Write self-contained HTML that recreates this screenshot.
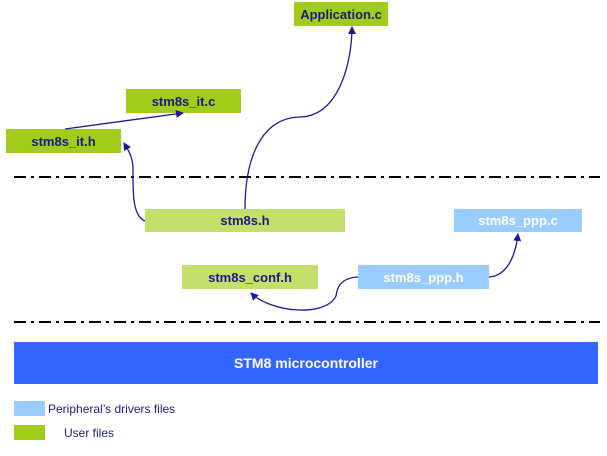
<!DOCTYPE html>
<html><head><style>
body{margin:0;width:607px;height:456px;background:#fff;position:relative;overflow:hidden;font-family:"Liberation Sans",Arial,sans-serif}
.b{position:absolute;display:flex;align-items:center;justify-content:center;font-weight:bold;font-size:13px;color:#1a1a80}
.g{background:#a0cc1a}.lg{background:#c4e06a}.bl{background:#99ccff;color:#fff}
.t{position:absolute;font-size:12px;color:#1a1a80}
</style></head><body>
<div class="b g" style="left:294px;top:2px;width:94px;height:24px;">Application.c</div>
<div class="b g" style="left:126px;top:89px;width:115px;height:24px;">stm8s_it.c</div>
<div class="b g" style="left:6px;top:129px;width:115px;height:24px;">stm8s_it.h</div>
<div class="b lg" style="left:145px;top:209px;width:200px;height:23px;">stm8s.h</div>
<div class="b bl" style="left:454px;top:209px;width:128px;height:23px;">stm8s_ppp.c</div>
<div class="b lg" style="left:182px;top:265px;width:136px;height:24px;">stm8s_conf.h</div>
<div class="b bl" style="left:358px;top:265px;width:131px;height:24px;">stm8s_ppp.h</div>
<div class="b" style="left:14px;top:342px;width:584px;height:42px;background:#3366ff;color:#fff;font-size:14px;">STM8 microcontroller</div>
<div style="position:absolute;left:14px;top:401px;width:31px;height:15px;background:#99ccff"></div>
<div class="t" style="left:48px;top:402px;">Peripheral’s drivers files</div>
<div style="position:absolute;left:14px;top:425px;width:31px;height:15px;background:#a0cc1a"></div>
<div class="t" style="left:64px;top:426px;">User files</div>
<svg width="607" height="456" style="position:absolute;left:0;top:0">
<defs><marker id="a" markerWidth="8" markerHeight="8" refX="7" refY="4" orient="auto" markerUnits="userSpaceOnUse"><path d="M0,0 L8,4 L0,8 Z" fill="#1a1a99"/></marker></defs>
<g stroke="#000" stroke-width="2" stroke-dasharray="12,5,3,5">
<line x1="14" y1="177" x2="600" y2="177"/><line x1="14" y1="322" x2="600" y2="322"/></g>
<g fill="none" stroke="#1a1a99" stroke-width="1.3" marker-end="url(#a)">
<path d="M65,129 L183,113"/>
<path d="M145,221 C132,216 133,190 133,170 C133,156 128,150 124,143"/>
<path d="M245,209 C245,160 260,118 300,117 C340,116 352,60 352,27"/>
<path d="M358,277 C340,278 337,288 336,296 C325,318 270,312 251,293"/>
<path d="M489,277 C505,276 515,260 518,234"/>
</g></svg>
</body></html>
